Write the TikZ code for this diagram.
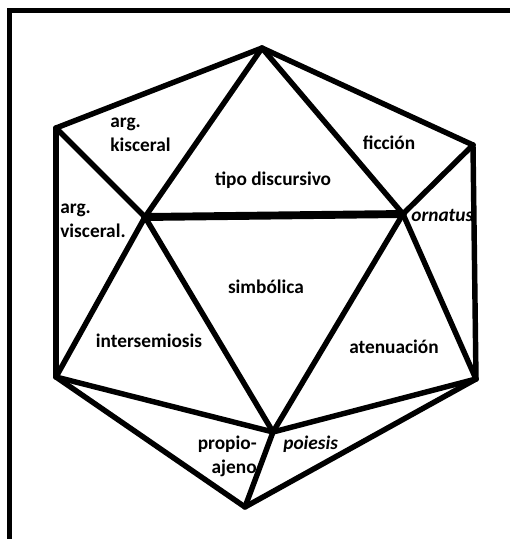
\documentclass[tikz,border=0pt]{standalone}
\usepackage{fontspec}
\setmainfont{Carlito}
\usepackage{tikz}
\usetikzlibrary{positioning}
\tikzset{
  edge/.style={line width=3.1pt, line join=round, line cap=round, color=black},
  midedge/.style={line width=4.5pt, line cap=round, color=black},
  frameline/.style={line width=2.8pt, color=black},
  lbl/.style={font=\fontsize{11}{13.5}\selectfont\bfseries, inner sep=0pt},
  itlbl/.style={font=\fontsize{11}{13.5}\selectfont\bfseries\itshape, inner sep=0pt}
}

\begin{document}
\begin{tikzpicture}[x=0.02cm, y=-0.02cm]
  \useasboundingbox (0,0) rectangle (510,539);
  % frame (open to the right and below)
  \coordinate (fbl) at (9.5,545);
  \coordinate (ftl) at (9.5,10.5);
  \coordinate (ftr) at (515,10.5);
  \draw[frameline] (fbl) -- (ftl) -- (ftr);

  % vertices of the solid
  \coordinate (top) at (262,48);
  \coordinate (upl) at (56,128);
  \coordinate (upr) at (473,145);
  \coordinate (midl) at (145,217);
  \coordinate (midr) at (403,214);
  \coordinate (lowl) at (56,377);
  \coordinate (lowr) at (476,379);
  \coordinate (cen) at (273,432);
  \coordinate (bot) at (245,507);

  % edges
  \draw[edge] (upl) -- (top) -- (upr);
  \draw[edge] (top) -- (midl);
  \draw[edge] (top) -- (midr);
  \draw[edge] (upl) -- (midl);
  \draw[edge] (upr) -- (midr);
  \draw[edge] (upl) -- (lowl);
  \draw[edge] (upr) -- (lowr);
  \draw[midedge] (midl) -- (midr);
  \draw[edge] (midl) -- (lowl);
  \draw[edge] (midl) -- (cen);
  \draw[edge] (midr) -- (cen);
  \draw[edge] (midr) -- (lowr);
  \draw[edge] (lowl) -- (cen) -- (lowr);
  \draw[edge] (lowl) -- (bot) -- (lowr);
  \draw[edge] (cen) -- (bot);

  % labels
  \node[lbl, anchor=west, align=left] (kisc) at (110,135) {arg.\\kisceral};
  \node[lbl] (ficc) at (389,143) {ficción};
  \node[lbl] (tipo) at (273,180) {tipo discursivo};
  \node[lbl, anchor=west, align=left] (visc) at (60,221) {arg.\\visceral.};
  \node[itlbl, anchor=west] (orna) at (411,215) {ornatus};
  \node[lbl] (simb) at (266,287) {simbólica};
  \node[lbl] (inter) at (149,341) {intersemiosis};
  \node[lbl] (aten) at (394,347) {atenuación};
  \node[lbl, anchor=east, align=right] (prop) at (257,456) {propio-\\ajeno};
  \node[itlbl, anchor=west] (poie) at (283,444) {poiesis};
\end{tikzpicture}
\end{document}
